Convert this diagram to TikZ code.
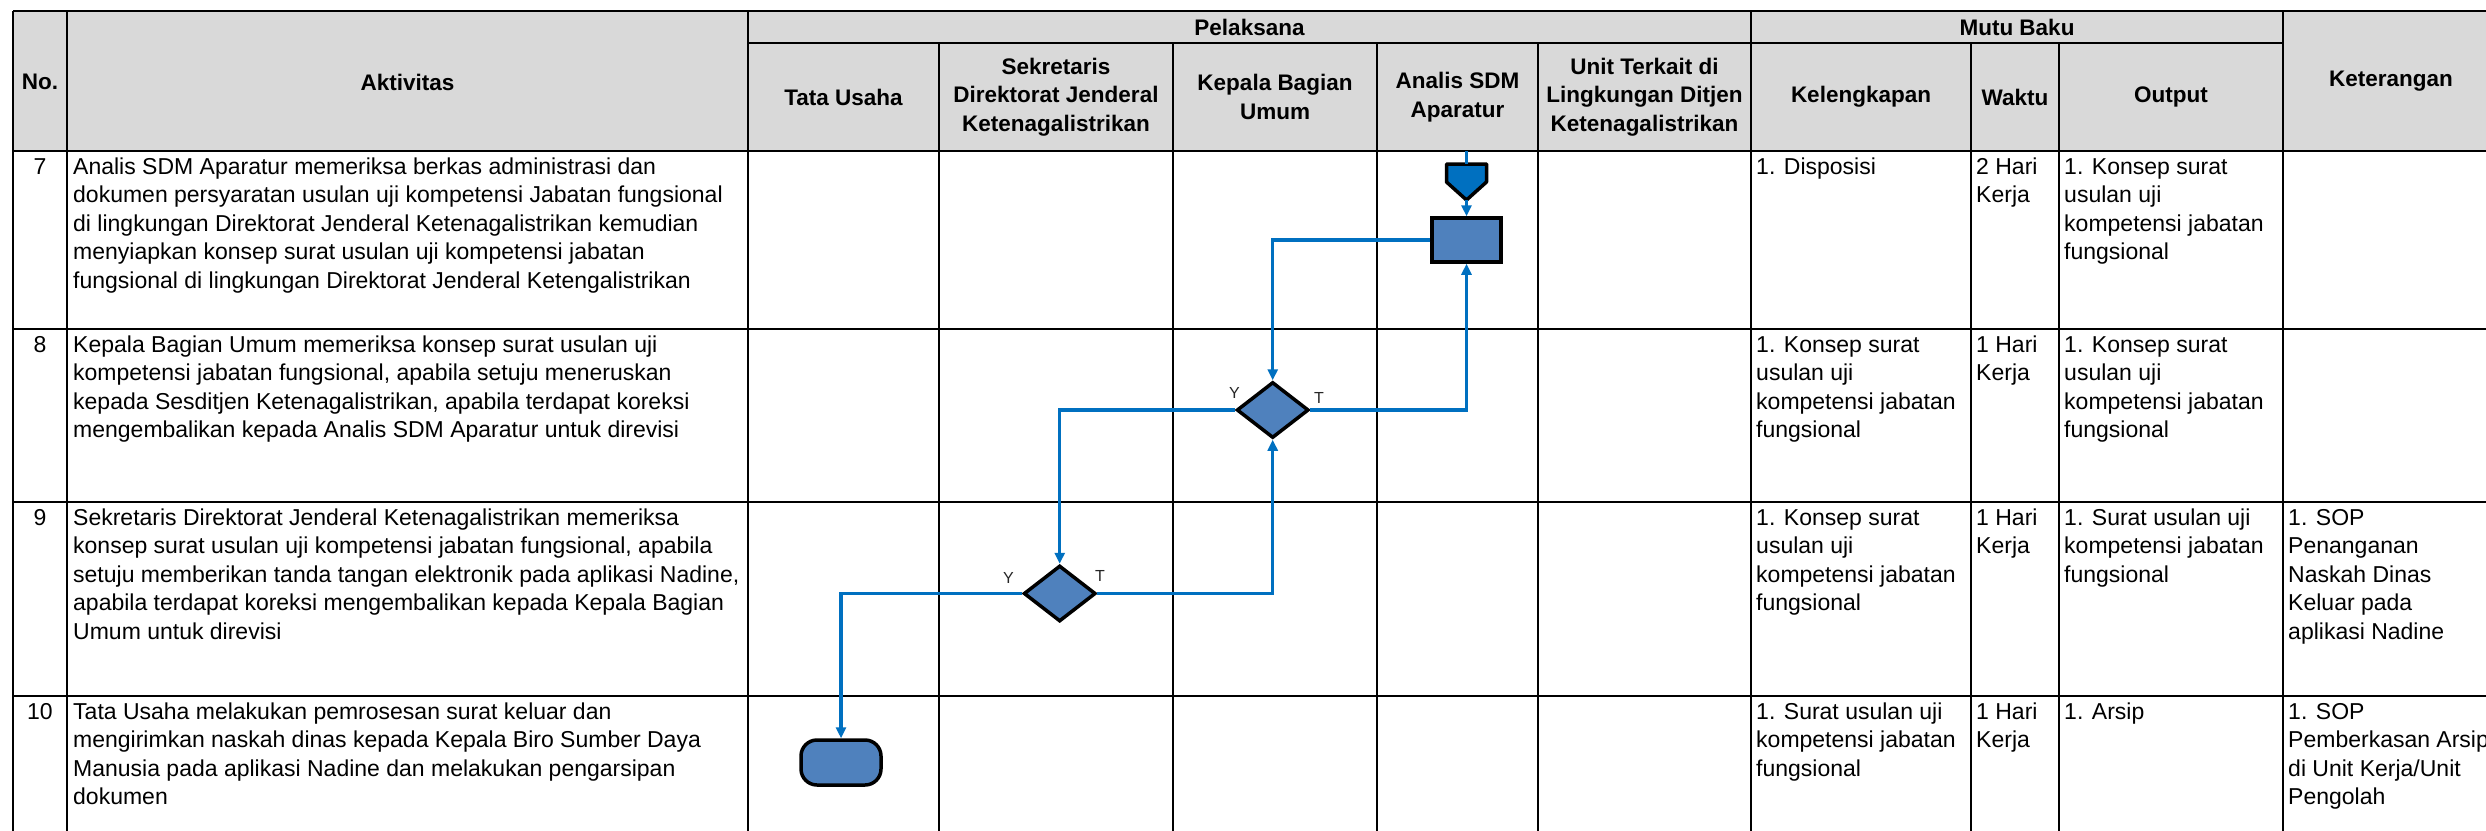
\documentclass[tikz,border=0pt]{standalone}
\usepackage{fontspec}
\setmainfont{Liberation Sans}
\usetikzlibrary{arrows.meta,shapes.geometric}
\definecolor{hdr}{HTML}{D9D9D9}
\definecolor{shp}{HTML}{4F81BD}
\definecolor{cn}{HTML}{0070C0}
\definecolor{lbl}{HTML}{262626}
\newcommand\fs{\fontsize{22.5bp}{28.5bp}\selectfont}
\newcommand\fb{\fontsize{23bp}{28.5bp}\selectfont}
\newcommand\ms{\vrule height 17bp width 0pt\relax}
\begin{document}
\begin{tikzpicture}[x=1bp,y=-1bp,
  grid/.style={line width=2bp,black},
  hd/.style={font=\fs\bfseries,align=center,inner sep=0},
  cell/.style={font=\fb,align=left,anchor=north west,inner sep=0},
  num/.style={font=\fb,anchor=north,inner sep=0},
  proc/.style={draw=black,line width=3.5bp,fill=shp,minimum width=69bp,minimum height=44bp,inner sep=0},
  dec/.style={diamond,draw=black,line width=3.5bp,fill=shp,minimum width=72bp,minimum height=56bp,inner sep=0},
  term/.style={draw=black,line width=3.5bp,fill=shp,rounded corners=16bp,minimum width=80bp,minimum height=45bp,inner sep=0},
  conn/.style={draw=cn,line width=3.2bp,-{Triangle[length=11bp,width=10bp]}},
  cline/.style={draw=cn,line width=3.2bp},
  yt/.style={font=\fontsize{16bp}{18bp}\selectfont,text=lbl,inner sep=0}
]
\useasboundingbox (0,0) rectangle (2486,830);
\clip (0,0) rectangle (2486,830);
\fill[white] (0,0) rectangle (2486,830);
% header fill
\fill[hdr] (13,11) rectangle (2510,151);
% grid
\foreach \y in {11,151,329,502,696} {\draw[grid] (13,\y) -- (2510,\y);}
\draw[grid] (748,43) -- (2283,43);
\foreach \x in {13,67,748,1751,2283} {\draw[grid] (\x,11) -- (\x,840);}
\foreach \x in {939,1173,1377,1538,1971,2059} {\draw[grid] (\x,43) -- (\x,840);}
% header texts
\node[hd] (hno) at (40,82) {No.};
\node[hd] (hakt) at (407.5,82) {Aktivitas};
\node[hd] (hpel) at (1249.5,27) {Pelaksana};
\node[hd] (hmutu) at (2017,27) {Mutu Baku};
\node[hd] (hket) at (2391,81) {Keterangan};
\node[hd] (htu) at (843.5,97) {Tata Usaha};
\node[hd] (hsek) at (1056,97) {Sekretaris\\Direktorat Jenderal\\Ketenagalistrikan};
\node[hd] (hkbu) at (1275,97) {Kepala Bagian\\Umum};
\node[hd] (hasdm) at (1457.5,97) {Analis SDM\\Aparatur};
\node[hd] (hunit) at (1644.5,97) {Unit Terkait di\\Lingkungan Ditjen\\Ketenagalistrikan};
\node[hd] (hkel) at (1861,97) {Kelengkapan};
\node[hd] (hwak) at (2015,97) {Waktu};
\node[hd] (hout) at (2171,97) {Output};
% row 7
\node[num] (n7) at (40,157) {\ms 7};
\node[cell] (a7) at (73,157) {\ms Analis SDM Aparatur memeriksa berkas administrasi dan\\dokumen persyaratan usulan uji kompetensi Jabatan fungsional\\di lingkungan Direktorat Jenderal Ketenagalistrikan kemudian\\menyiapkan konsep surat usulan uji kompetensi jabatan\\fungsional di lingkungan Direktorat Jenderal Ketengalistrikan};
\node[cell] (k7) at (1756,157) {\ms 1. Disposisi};
\node[cell] (w7) at (1976,157) {\ms 2 Hari\\Kerja};
\node[cell] (o7) at (2064,157) {\ms 1. Konsep surat\\usulan uji\\kompetensi jabatan\\fungsional};
% row 8
\node[num] (n8) at (40,335) {\ms 8};
\node[cell] (a8) at (73,335) {\ms Kepala Bagian Umum memeriksa konsep surat usulan uji\\kompetensi jabatan fungsional, apabila setuju meneruskan\\kepada Sesditjen Ketenagalistrikan, apabila terdapat koreksi\\mengembalikan kepada Analis SDM Aparatur untuk direvisi};
\node[cell] (k8) at (1756,335) {\ms 1. Konsep surat\\usulan uji\\kompetensi jabatan\\fungsional};
\node[cell] (w8) at (1976,335) {\ms 1 Hari\\Kerja};
\node[cell] (o8) at (2064,335) {\ms 1. Konsep surat\\usulan uji\\kompetensi jabatan\\fungsional};
% row 9
\node[num] (n9) at (40,508) {\ms 9};
\node[cell] (a9) at (73,508) {\ms Sekretaris Direktorat Jenderal Ketenagalistrikan memeriksa\\konsep surat usulan uji kompetensi jabatan fungsional, apabila\\setuju memberikan tanda tangan elektronik pada aplikasi Nadine,\\apabila terdapat koreksi mengembalikan kepada Kepala Bagian\\Umum untuk direvisi};
\node[cell] (k9) at (1756,508) {\ms 1. Konsep surat\\usulan uji\\kompetensi jabatan\\fungsional};
\node[cell] (w9) at (1976,508) {\ms 1 Hari\\Kerja};
\node[cell] (o9) at (2064,508) {\ms 1. Surat usulan uji\\kompetensi jabatan\\fungsional};
\node[cell] (t9) at (2288,508) {\ms 1. SOP\\Penanganan\\Naskah Dinas\\Keluar pada\\aplikasi Nadine};
% row 10
\node[num] (n10) at (40,702) {\ms 10};
\node[cell] (a10) at (73,702) {\ms Tata Usaha melakukan pemrosesan surat keluar dan\\mengirimkan naskah dinas kepada Kepala Biro Sumber Daya\\Manusia pada aplikasi Nadine dan melakukan pengarsipan\\dokumen};
\node[cell] (k10) at (1756,702) {\ms 1. Surat usulan uji\\kompetensi jabatan\\fungsional};
\node[cell] (w10) at (1976,702) {\ms 1 Hari\\Kerja};
\node[cell] (o10) at (2064,702) {\ms 1. Arsip};
\node[cell] (t10) at (2288,702) {\ms 1. SOP\\Pemberkasan Arsip\\di Unit Kerja/Unit\\Pengolah};
% flowchart
\coordinate (start) at (1466.5,151);
\coordinate (offtop) at (1466.5,164);
\coordinate (offtip) at (1466.5,200);
\filldraw[fill=cn,draw=black,line width=3.5bp,line join=round] (1446.5,164) -- (1486.5,164) -- (1486.5,182) -- (offtip) -- (1446.5,182) -- cycle;
\node[proc] (p7) at (1466.5,240) {};
\node[dec] (d8) at (1272.7,410) {};
\node[dec] (d9) at (1059.7,593.5) {};
\node[term] (e10) at (841,762.5) {};
\draw[cline] (start) -- (offtop);
\draw[conn] (offtip) -- (p7.north);
\draw[conn] (p7.west) -| (d8.north);
\draw[conn] (d8.east) -| (p7.south);
\draw[conn] (d8.west) -| (d9.north);
\draw[conn] (d9.east) -| (d8.south);
\draw[conn] (d9.west) -| (e10.north);
\node[yt] (y8) at (1234.5,392.5) {Y};
\node[yt] (t8) at (1319,398) {T};
\node[yt] (y9) at (1008.5,578) {Y};
\node[yt] (t9l) at (1100,576) {T};
\end{tikzpicture}
\end{document}
